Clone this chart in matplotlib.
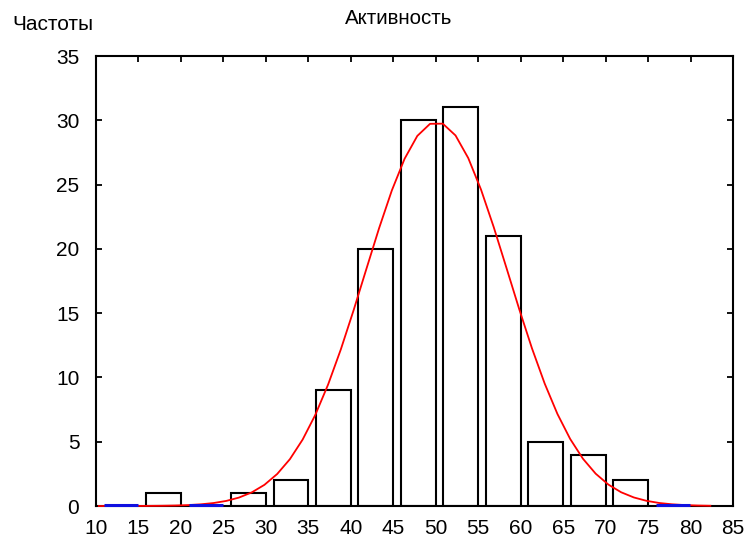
import numpy as np
import matplotlib
matplotlib.use("Agg")
import matplotlib.pyplot as plt

plt.rcParams['font.family'] = ['Liberation Sans', 'DejaVu Sans']

# Data
bin_starts = [10, 15, 20, 25, 30, 35, 40, 45, 50, 55, 60, 65, 70, 75]
counts = [0, 1, 0, 1, 2, 9, 20, 30, 31, 21, 5, 4, 2, 0]
fit_mean = 50.1
fit_sd = 8.42
bin_width = 5
x_ticks = [10, 15, 20, 25, 30, 35, 40, 45, 50, 55, 60, 65, 70, 75, 80, 85]
y_ticks = [0, 5, 10, 15, 20, 25, 30, 35]
title = "Активность"
ylabel = "Частоты"

fig = plt.figure(figsize=(7.47, 5.42), dpi=100)
ax = fig.add_axes([96/747, 1-506/542, (733-96)/747, (506-56)/542])

starts = np.array(bin_starts, dtype=float)
cnt = np.array(counts, dtype=float)
nz = cnt > 0
ax.bar(starts[nz] + 0.9, cnt[nz], width=4.1, align='edge',
       facecolor='white', edgecolor='black', linewidth=1.5, zorder=2)
ax.hlines(np.zeros((~nz).sum()) + 0.08, starts[~nz] + 0.9, starts[~nz] + 4.9,
          colors='#1010e0', linewidth=2.2, zorder=5, clip_on=False)

# fitted normal curve (expected counts)
n_total = cnt.sum()
xc = np.linspace(10.33, 82.33, 49)
yc = n_total * bin_width / (fit_sd * np.sqrt(2*np.pi)) * np.exp(-0.5*((xc-fit_mean)/fit_sd)**2)
ax.plot(xc, yc, color='red', linewidth=1.3, zorder=4, clip_on=False)

ax.set_xlim(10, 85)
ax.set_ylim(0, 35)
ax.set_xticks(x_ticks)
ax.set_yticks(y_ticks)
ax.tick_params(direction='in', length=4, width=1.3, labelsize=15,
               top=True, right=True)
ax.tick_params(axis='x', bottom=False, labelbottom=True, top=True, pad=9)
ax.tick_params(axis='y', pad=12)
for s in ax.spines.values():
    s.set_linewidth(1.5)

fig.text(399/747, 1-18/542, title, ha='center', va='center', fontsize=14.8)
fig.text(12/747, 1-24/542, ylabel, ha='left', va='center', fontsize=15)

fig.savefig('out.png', dpi=100)
